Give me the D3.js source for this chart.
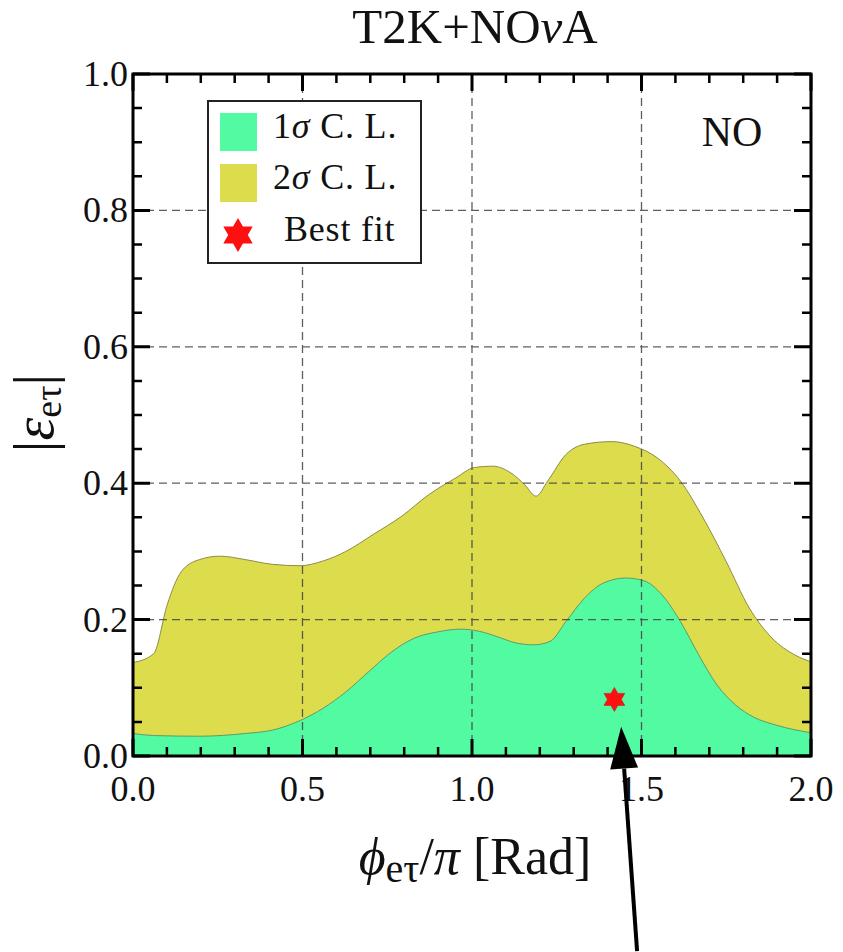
<!DOCTYPE html>
<html><head><meta charset="utf-8">
<script src="https://cdn.jsdelivr.net/npm/d3@7"></script>
<style>
body{margin:0;background:#fff}
text{font-family:"Liberation Serif","Times New Roman","DejaVu Serif",serif;fill:#111}
</style>
</head><body>
<svg id="c" width="843" height="952"></svg>
<script>
// ---- data ----
const sigma2X = [0.00,0.061,0.101,0.142,0.196,0.257,0.331,0.412,0.493,0.561,0.628,0.709,0.791,0.872,0.953,1.007,1.061,1.115,1.155,1.189,1.223,1.277,1.331,1.412,1.480,1.547,1.615,1.682,1.750,1.818,1.885,1.953,2.00];
const sigma2Y = [0.137,0.150,0.222,0.270,0.288,0.293,0.288,0.281,0.279,0.286,0.300,0.325,0.351,0.383,0.408,0.423,0.425,0.415,0.398,0.381,0.403,0.442,0.457,0.461,0.454,0.437,0.403,0.349,0.285,0.217,0.173,0.148,0.138];
const sigma1X = [0.00,0.061,0.196,0.331,0.412,0.493,0.561,0.628,0.696,0.764,0.831,0.899,0.966,1.020,1.074,1.128,1.182,1.230,1.277,1.331,1.385,1.453,1.507,1.561,1.615,1.669,1.723,1.777,1.831,1.899,2.00];
const sigma1Y = [0.033,0.030,0.029,0.033,0.038,0.052,0.070,0.094,0.124,0.153,0.173,0.182,0.186,0.183,0.175,0.166,0.163,0.168,0.197,0.231,0.253,0.261,0.257,0.236,0.197,0.148,0.104,0.075,0.057,0.045,0.034];
const bestFit = [1.42, 0.083];
const arrowTip = [1.44, 0.043];
const arrowTail = [1.487, -0.286];
const xTicks = [0.0, 0.5, 1.0, 1.5, 2.0];
const xTickLabels = ["0.0","0.5","1.0","1.5","2.0"];
const yTicks = [0.0, 0.2, 0.4, 0.6, 0.8, 1.0];
const yTickLabels = ["0.0","0.2","0.4","0.6","0.8","1.0"];
const legendLabels = ["1σ C. L.", "2σ C. L.", "Best fit"];
const orderingLabel = "NO";

// ---- layout ----
const L = 133, R = 811, T = 74, B = 756;
const svg = d3.select("#c");
const x = d3.scaleLinear().domain([0, 2]).range([L, R]);
const y = d3.scaleLinear().domain([0, 1]).range([B, T]);
const green = "#52FAA2", yellow = "#DCDC4C";

const s2 = sigma2X.map((d, i) => [d, sigma2Y[i]]);
const s1 = sigma1X.map((d, i) => [d, sigma1Y[i]]);
const area = d3.area().x(d => x(d[0])).y0(y(0)).y1(d => y(d[1])).curve(d3.curveMonotoneX);
const line = d3.line().x(d => x(d[0])).y(d => y(d[1])).curve(d3.curveMonotoneX);

svg.append("path").attr("d", area(s2)).attr("fill", yellow);
svg.append("path").attr("d", line(s2)).attr("fill", "none").attr("stroke", "#8c8c4a").attr("stroke-width", 1);
svg.append("path").attr("d", area(s1)).attr("fill", green);
svg.append("path").attr("d", line(s1)).attr("fill", "none").attr("stroke", "#5f9a6a").attr("stroke-width", 1);

// dashed grid on top of areas
const grid = svg.append("g").attr("stroke", "#444").attr("stroke-width", 1.3).attr("stroke-dasharray", "8,5").attr("opacity", 0.85);
xTicks.filter(v => v > 0 && v < 2).forEach(v => grid.append("line").attr("x1", x(v)).attr("x2", x(v)).attr("y1", y(0)).attr("y2", y(1)));
yTicks.filter(v => v > 0 && v < 1).forEach(v => grid.append("line").attr("x1", x(0)).attr("x2", x(2)).attr("y1", y(v)).attr("y2", y(v)));

// six-pointed star
function hexagram(cx, cy, r) {
  const pts = [];
  for (let k = 0; k < 12; k++) {
    const a = -Math.PI / 2 + k * Math.PI / 6;
    const rr = k % 2 === 0 ? r : r / Math.sqrt(3);
    pts.push([cx + rr * Math.cos(a), cy + rr * Math.sin(a)]);
  }
  return "M" + pts.map(p => p.join(",")).join("L") + "Z";
}
svg.append("path").attr("d", hexagram(x(bestFit[0]), y(bestFit[1]), 12)).attr("fill", "#ff1010").attr("stroke", "#c02020").attr("stroke-width", 0.6);

// frame
svg.append("rect").attr("x", L).attr("y", T).attr("width", R - L).attr("height", B - T)
  .attr("fill", "none").attr("stroke", "#000").attr("stroke-width", 3);

// inside ticks on all four sides (paths)
const xMinor = d3.range(0, 21).map(i => i / 10).filter(v => !xTicks.some(t => Math.abs(t - v) < 1e-9));
const yMinor = d3.range(0, 21).map(i => i / 20).filter(v => !yTicks.some(t => Math.abs(t - v) < 1e-9));
const MAJ = 17, MIN = 9;
function tickPath(xv, yv, len) {
  let d = "";
  xv.forEach(v => { d += `M${x(v)},${B}V${B - len}M${x(v)},${T}V${T + len}`; });
  yv.forEach(v => { d += `M${L},${y(v)}H${L + len}M${R},${y(v)}H${R - len}`; });
  return d;
}
svg.append("path").attr("d", tickPath(xMinor, yMinor, MIN)).attr("fill", "none").attr("stroke", "#000").attr("stroke-width", 2.5);
svg.append("path").attr("d", tickPath(xTicks, yTicks, MAJ)).attr("fill", "none").attr("stroke", "#000").attr("stroke-width", 3);

// tick labels
svg.append("g").selectAll("text").data(xTicks).join("text")
  .attr("x", d => x(d)).attr("y", 801).attr("text-anchor", "middle").attr("font-size", 36)
  .text((d, i) => xTickLabels[i]);
svg.append("g").selectAll("text").data(yTicks).join("text")
  .attr("x", L - 5).attr("y", d => y(d) + 12).attr("text-anchor", "end").attr("font-size", 36)
  .text((d, i) => yTickLabels[i]);

// title
svg.append("text").attr("x", 475).attr("y", 43).attr("text-anchor", "middle").attr("font-size", 49)
  .html('T2K+NO<tspan font-style="italic">ν</tspan>A');

// NO label
svg.append("text").attr("x", 732).attr("y", 146).attr("text-anchor", "middle").attr("font-size", 42).text(orderingLabel);

// x label
const xl = svg.append("text").attr("x", 475).attr("y", 874).attr("text-anchor", "middle").attr("font-size", 52);
xl.append("tspan").attr("font-style", "italic").text("ϕ");
xl.append("tspan").attr("font-size", 40).attr("dy", 8).text("eτ");
xl.append("tspan").attr("dy", -8).text("/");
xl.append("tspan").attr("font-style", "italic").text("π");
xl.append("tspan").text(" [Rad]");

// y label
const yl = svg.append("text").attr("transform", "translate(53,413) rotate(-90)").attr("text-anchor", "middle").attr("font-size", 58);
yl.append("tspan").text("|");
yl.append("tspan").attr("font-style", "italic").text("ε");
yl.append("tspan").attr("font-size", 38).attr("dy", 8).text("eτ");
yl.append("tspan").attr("dy", -8).text("|");

// legend
const lg = svg.append("g");
lg.append("rect").attr("x", 208).attr("y", 101).attr("width", 213).attr("height", 162)
  .attr("fill", "#fff").attr("stroke", "#222").attr("stroke-width", 2);
lg.append("rect").attr("x", 220).attr("y", 113).attr("width", 37).attr("height", 38).attr("fill", green);
lg.append("rect").attr("x", 220).attr("y", 164).attr("width", 37).attr("height", 38).attr("fill", yellow);
lg.append("path").attr("d", hexagram(238, 235, 17)).attr("fill", "#ff1010");
const legY = [138, 189, 241];
legendLabels.forEach((t, i) => {
  const tx = lg.append("text").attr("x", i < 2 ? 273 : 284).attr("y", legY[i]).attr("font-size", 36).attr("letter-spacing", 0.8);
  if (i < 2) {
    tx.append("tspan").text(t[0]);
    tx.append("tspan").attr("font-style", "italic").text("σ");
    tx.append("tspan").text(t.slice(2));
  } else tx.text(t);
});

// arrow annotation
const tip = [x(arrowTip[0]), y(arrowTip[1])], tail = [x(arrowTail[0]), y(arrowTail[1])];
const ang = Math.atan2(tip[1] - tail[1], tip[0] - tail[0]);
const hl = 42, hw = 14;
const base = [tip[0] - hl * Math.cos(ang), tip[1] - hl * Math.sin(ang)];
const px = -Math.sin(ang), py = Math.cos(ang);
svg.append("line").attr("x1", tail[0]).attr("y1", tail[1]).attr("x2", base[0]).attr("y2", base[1])
  .attr("stroke", "#000").attr("stroke-width", 4);
svg.append("path").attr("d", `M${tip[0]},${tip[1]}L${base[0] + hw * px},${base[1] + hw * py}L${base[0] - hw * px},${base[1] - hw * py}Z`).attr("fill", "#000");
</script>
</body></html>
